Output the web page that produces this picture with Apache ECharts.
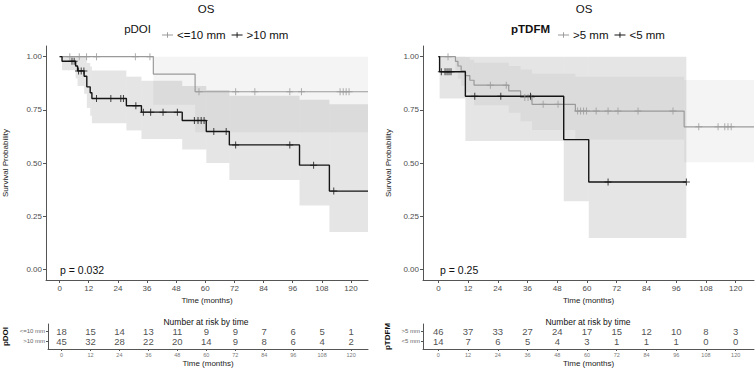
<!DOCTYPE html>
<html><head><meta charset="utf-8">
<script src="https://cdn.jsdelivr.net/npm/echarts@6/dist/echarts.min.js"></script>
<style>html,body{margin:0;padding:0;background:#fff}#c{width:756px;height:370px}</style>
</head><body><div id="c"></div>
<script>
// ===================== DATA =====================
const tickMonths = [0,12,24,36,48,60,72,84,96,108,120];
const survTicks = [0,0.25,0.5,0.75,1];

// ---- Left panel: pDOI ----
const pdoiTitle = 'pDOI';
const pdoiGroups = ['<=10 mm', '>10 mm'];
const pdoiP = 'p = 0.032';
// <=10 mm : step times / survival / CI (per interval)
const pdoiLowT  = [0, 38.6, 55.8, 127];
const pdoiLowS  = [1, 0.918, 0.835, 0.835];
const pdoiLowLo = [1, 0.774, 0.645];
const pdoiLowHi = [1, 1, 1];
const pdoiLowCens = [4.2, 8.1, 11.1, 15.2, 31.2, 37.2, 57.4, 72.5, 80.4, 94.8, 99.6, 115.5, 116.8, 118.0, 119.2];
// >10 mm
const pdoiHighT  = [0, 1, 6.6, 7.4, 10.1, 11.2, 12.6, 13.3, 27.5, 33.7, 50.5, 60.4, 69.9, 98.8, 111.1, 127];
const pdoiHighS  = [1, 0.978, 0.956, 0.933, 0.908, 0.858, 0.83, 0.803, 0.769, 0.739, 0.70, 0.648, 0.585, 0.49, 0.368, 0.368];
const pdoiHighLo = [1, 0.936, 0.898, 0.862, 0.825, 0.759, 0.722, 0.687, 0.653, 0.613, 0.563, 0.50, 0.42, 0.30, 0.176];
const pdoiHighHi = [1, 1, 1, 1, 1, 0.97, 0.954, 0.935, 0.906, 0.887, 0.862, 0.843, 0.816, 0.797, 0.776];
const pdoiHighCens = [5.1, 6.0, 7.8, 8.9, 10.0, 15.2, 21.1, 25.2, 26.3, 31.4, 34.5, 37.5, 42.6, 48.5, 55.5, 57.0, 58.3, 59.5, 63.5, 68.6, 72.5, 94.8, 104.6, 112.9];
const pdoiRiskLow  = [18, 15, 14, 13, 11, 9, 9, 7, 6, 5, 1];
const pdoiRiskHigh = [45, 32, 28, 22, 20, 14, 9, 8, 6, 4, 2];

// ---- Right panel: pTDFM ----
const ptdfmTitle = 'pTDFM';
const ptdfmGroups = ['>5 mm', '<5 mm'];
const ptdfmP = 'p = 0.25';
// >5 mm
const ptdfmHiT  = [0, 6.9, 7.9, 9.2, 10.9, 12.7, 14.4, 28.4, 33.2, 37.8, 55.3, 99.2, 127.4];
const ptdfmHiS  = [1, 0.978, 0.956, 0.933, 0.911, 0.889, 0.866, 0.839, 0.808, 0.776, 0.744, 0.67, 0.67];
const ptdfmHiLo = [1, 0.935, 0.896, 0.863, 0.832, 0.802, 0.772, 0.736, 0.696, 0.655, 0.611, 0.503];
const ptdfmHiHi = [1, 1, 1, 1, 0.998, 0.985, 0.971, 0.956, 0.939, 0.92, 0.906, 0.89];
const ptdfmHiCens = [3.9, 21.0, 27.4, 34.9, 36.2, 37.5, 42.3, 48.3, 56.2, 57.4, 58.6, 59.8, 63.7, 68.5, 72.5, 80.6, 94.7, 105.1, 112.9, 115.6, 116.9, 118.2];
// <5 mm
const ptdfmLoT  = [0, 0.5, 10.9, 50.6, 60.7, 100.1];
const ptdfmLoS  = [1, 0.929, 0.814, 0.61, 0.411, 0.411];
const ptdfmLoLo = [1, 0.803, 0.603, 0.32, 0.147];
const ptdfmLoHi = [1, 1, 1, 1, 1];
const ptdfmLoCens = [1.2, 2.7, 3.5, 4.3, 5.1, 14.7, 25.2, 37.2, 68.5, 100.1];
const ptdfmRiskHi = [46, 37, 33, 27, 24, 17, 15, 12, 10, 8, 3];
const ptdfmRiskLo = [14, 7, 6, 5, 4, 3, 1, 1, 1, 0, 0];

// ===================== STYLE / HELPERS =====================
const FONT = "'Liberation Sans', Arial, sans-serif";
const GRAY = '#9a9a9a', BLACK = '#151515';
const PLUS = 'path://M0,3H7V4H0Z M3,0H4V7H3Z';
const LEGEND_ICON = 'path://M0,3.4H14V4.6H0Z M6.4,0.5H7.6V7.5H6.4Z';

function km(T, S) { return T.map((t, i) => [t, S[i]]); }
function bands(T, Lo, Hi) { return Lo.map((l, i) => [T[i], T[i+1], l, Hi[i]]); }
function stepAt(T, S, t) { let v = S[0]; for (let i = 0; i < T.length; i++) if (T[i] <= t) v = S[i]; return v; }
function cens(T, S, C) { return C.map(t => [t, stepAt(T, S, t)]); }

function bandSeries(name, xi, data, fill) {
  return {
    type: 'custom', name: name, xAxisIndex: xi, yAxisIndex: xi, z: 1, silent: true,
    encode: { x: [0, 1], y: [2, 3] },
    data: data,
    renderItem: function (params, api) {
      const p0 = api.coord([api.value(0), api.value(3)]);
      const p1 = api.coord([api.value(1), api.value(2)]);
      return { type: 'rect', shape: { x: p0[0], y: p0[1], width: p1[0] - p0[0], height: p1[1] - p0[1] },
               style: { fill: fill } };
    }
  };
}
function lineSeries(name, xi, data, color, w) {
  return { type: 'line', name: name, xAxisIndex: xi, yAxisIndex: xi, step: 'end', data: data,
           showSymbol: false, symbol: 'none', z: 3, silent: true,
           lineStyle: { color: color, width: w }, itemStyle: { color: color } };
}
function censSeries(name, xi, data, color) {
  return { type: 'scatter', name: name, xAxisIndex: xi, yAxisIndex: xi, data: data, symbol: PLUS,
           symbolSize: 7, z: 4, silent: true, itemStyle: { color: color } };
}
function riskSeries(xi, rowVal, counts) {
  return { type: 'scatter', xAxisIndex: xi, yAxisIndex: xi, symbolSize: 0, silent: true, z: 4,
           data: tickMonths.map((t, j) => [t, rowVal, counts[j]]),
           label: { show: true, position: 'inside', formatter: p => String(p.value[2]),
                    fontSize: 9.5, fontFamily: FONT, color: '#222' } };
}

const axisLine = { show: true, onZero: false, lineStyle: { color: '#555', width: 1 } };
function mainX(gi, min, max) {
  return { type: 'value', gridIndex: gi, min: min, max: max,
    axisLine: axisLine, splitLine: { show: false },
    axisTick: { show: true, length: 3, lineStyle: { color: '#555' }, customValues: tickMonths },
    axisLabel: { customValues: tickMonths, fontSize: 8, fontFamily: FONT, color: '#4d4d4d', margin: 4 },
    name: 'Time (months)', nameLocation: 'middle', nameGap: 11,
    nameTextStyle: { fontSize: 8, fontFamily: FONT, color: '#222' } };
}
function mainY(gi, gap) {
  return { type: 'value', gridIndex: gi, min: -0.05, max: 1.05,
    axisLine: axisLine, splitLine: { show: false },
    axisTick: { show: true, length: 3, lineStyle: { color: '#555' }, customValues: survTicks },
    axisLabel: { customValues: survTicks, formatter: v => v.toFixed(2), fontSize: 8, fontFamily: FONT, color: '#4d4d4d', margin: 4 },
    name: 'Survival Probability', nameLocation: 'middle', nameGap: gap, nameRotate: 90,
    nameTextStyle: { fontSize: 8, fontFamily: FONT, color: '#222' } };
}
function riskX(gi, min, max) {
  return { type: 'value', gridIndex: gi, min: min, max: max,
    axisLine: axisLine, splitLine: { show: false },
    axisTick: { show: true, length: 2, lineStyle: { color: '#555' }, customValues: tickMonths },
    axisLabel: { customValues: tickMonths, fontSize: 5.5, fontFamily: FONT, color: '#777', margin: 3 },
    name: 'Time (months)', nameLocation: 'middle', nameGap: 10,
    nameTextStyle: { fontSize: 8, fontFamily: FONT, color: '#222' } };
}
function riskY(gi, labels, title, gap) {
  return { type: 'value', gridIndex: gi, min: 0.2, max: 2.7,
    axisLine: axisLine, splitLine: { show: false },
    axisTick: { show: true, length: 2, lineStyle: { color: '#555' }, customValues: [1, 2] },
    axisLabel: { customValues: [1, 2], formatter: v => (v === 2 ? labels[0] : labels[1]),
                 fontSize: 6, fontFamily: FONT, color: '#666', margin: 3 },
    name: title, nameLocation: 'middle', nameGap: gap, nameRotate: 90,
    nameTextStyle: { fontSize: 8, fontFamily: FONT, color: '#111', fontWeight: 'bold' } };
}
function txt(x, y, text, size, align, weight) {
  return { type: 'text', x: x, y: y, silent: true,
    style: { text: text, fontSize: size, fontFamily: FONT, fontWeight: weight || 'normal',
             fill: '#111', align: align, verticalAlign: 'middle' } };
}
function legend(left, names, colors) {
  return { left: left, top: 24, itemGap: 6, itemWidth: 11, itemHeight: 8, selectedMode: false,
    textStyle: { fontSize: 11.5, fontFamily: FONT, color: '#111', padding: [0, 0, 0, -1] },
    data: names.map((n, i) => ({ name: n, icon: LEGEND_ICON, itemStyle: { color: colors[i] } })) };
}

// ===================== CHART =====================
const chart = echarts.init(document.getElementById('c'), null, { renderer: 'svg', width: 756, height: 370 });
const LMIN = -5.6, LMAX = 127, RMIN = -6.2, RMAX = 127.4;

const option = {
  animation: false,
  backgroundColor: '#fff',
  grid: [
    { left: 45, top: 46, width: 323, height: 234 },
    { left: 45, top: 324, width: 323, height: 25 },
    { left: 423, top: 46, width: 331, height: 234 },
    { left: 423, top: 324, width: 331, height: 25 }
  ],
  xAxis: [ mainX(0, LMIN, LMAX), riskX(1, LMIN, LMAX), mainX(2, RMIN, RMAX), riskX(3, RMIN, RMAX) ],
  yAxis: [ mainY(0, 37), riskY(1, pdoiGroups, pdoiTitle, 39), mainY(2, 31), riskY(3, ptdfmGroups, ptdfmTitle, 32) ],
  legend: [ legend(157, pdoiGroups, [GRAY, BLACK]), legend(553, ptdfmGroups, [GRAY, BLACK]) ],
  graphic: [
    txt(206, 9, 'OS', 11.5, 'center'),
    txt(584, 9, 'OS', 11.5, 'center'),
    txt(151, 29, pdoiTitle, 11.5, 'right'),
    txt(550, 29, ptdfmTitle, 11.5, 'right', 'bold'),
    txt(60, 270, pdoiP, 10.5, 'left'),
    txt(440, 270, ptdfmP, 10.5, 'left'),
    txt(206, 322, 'Number at risk by time', 8.5, 'center'),
    txt(588, 322, 'Number at risk by time', 8.5, 'center')
  ],
  series: [
    bandSeries('band1', 0, bands(pdoiLowT, pdoiLowLo, pdoiLowHi), 'rgba(150,150,150,0.1)'),
    bandSeries('band2', 0, bands(pdoiHighT, pdoiHighLo, pdoiHighHi), 'rgba(0,0,0,0.1)'),
    lineSeries(pdoiGroups[0], 0, km(pdoiLowT, pdoiLowS), GRAY, 1.2),
    lineSeries(pdoiGroups[1], 0, km(pdoiHighT, pdoiHighS), BLACK, 1.4),
    censSeries('c1', 0, cens(pdoiLowT, pdoiLowS, pdoiLowCens), GRAY),
    censSeries('c2', 0, cens(pdoiHighT, pdoiHighS, pdoiHighCens), BLACK),
    riskSeries(1, 2, pdoiRiskLow),
    riskSeries(1, 1, pdoiRiskHigh),

    bandSeries('band3', 2, bands(ptdfmHiT, ptdfmHiLo, ptdfmHiHi), 'rgba(150,150,150,0.1)'),
    bandSeries('band4', 2, bands(ptdfmLoT, ptdfmLoLo, ptdfmLoHi), 'rgba(0,0,0,0.1)'),
    lineSeries(ptdfmGroups[0], 2, km(ptdfmHiT, ptdfmHiS), GRAY, 1.2),
    lineSeries(ptdfmGroups[1], 2, km(ptdfmLoT, ptdfmLoS), BLACK, 1.4),
    censSeries('c3', 2, cens(ptdfmHiT, ptdfmHiS, ptdfmHiCens), GRAY),
    censSeries('c4', 2, cens(ptdfmLoT, ptdfmLoS, ptdfmLoCens), BLACK),
    riskSeries(3, 2, ptdfmRiskHi),
    riskSeries(3, 1, ptdfmRiskLo)
  ]
};
chart.setOption(option);
</script>
</body></html>
